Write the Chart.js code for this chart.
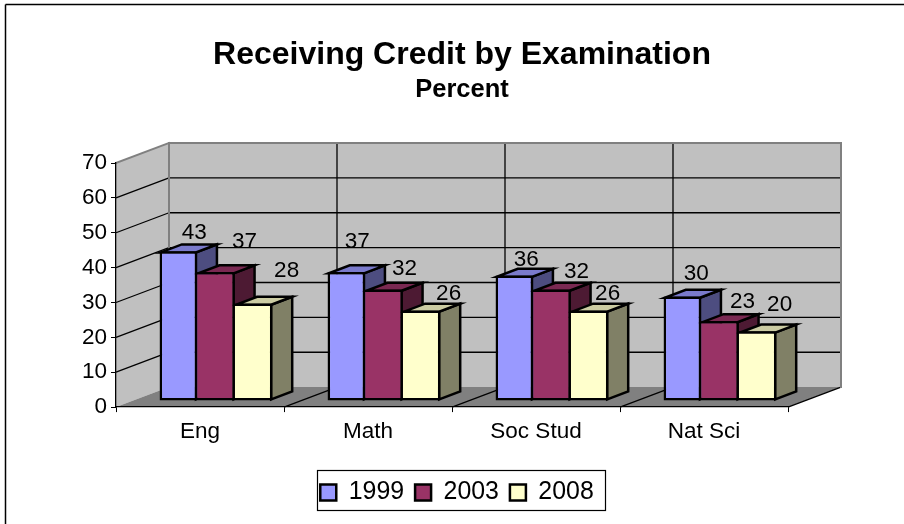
<!DOCTYPE html>
<html><head><meta charset="utf-8">
<style>html,body{margin:0;padding:0;background:#fff}canvas{display:block}#w{position:relative;width:904px;height:524px}</style>
<script src="https://cdn.jsdelivr.net/npm/chart.js@4"></script>
</head><body><div id="w"><canvas id="c"></canvas></div>
<script>
const categories = ['Eng', 'Math', 'Soc Stud', 'Nat Sci'];
const seriesNames = ['1999', '2003', '2008'];
const values1999 = [43, 37, 36, 30];
const values2003 = [37, 32, 32, 23];
const values2008 = [28, 26, 26, 20];
const yTicks = [0, 10, 20, 30, 40, 50, 60, 70];
const fills = ['#9999FF', '#993366', '#FFFFCC'];
const sides = ['#4D4D80', '#4D1A33', '#808066'];
const tops = ['#7A7ACC', '#7A2952', '#CCCCA3'];

const WALL = {dx: 53, dy: -20};
const PLANE = {dx: 16, dy: -6};
const DEPTH = {dx: 21, dy: -8};
const BAR_BORDER = 2.5;
// hand-placed label nudges [dx from bar centre, baseline dy from bar top], per series then category
const labelNudge = [
  [[16,-12],[11,-24],[12,-9.5],[14,-16]],
  [[28.5,-24],[20.5,-15],[24.5,-12],[22.5,-12.5]],
  [[33,-26],[27,-10],[18,-10],[22,-20]]
];

function poly(ctx, pts, fill, stroke, lw){
  ctx.beginPath();
  pts.forEach((p,i)=> i?ctx.lineTo(p[0],p[1]):ctx.moveTo(p[0],p[1]));
  ctx.closePath();
  if(fill){ctx.fillStyle=fill;ctx.fill();}
  if(stroke){ctx.strokeStyle=stroke;ctx.lineWidth=lw||1;ctx.stroke();}
}
function line(ctx,x1,y1,x2,y2,c,lw){
  ctx.beginPath();ctx.moveTo(x1,y1);ctx.lineTo(x2,y2);ctx.strokeStyle=c;ctx.lineWidth=lw||1;ctx.stroke();
}

const chrome3d = {
  id:'chrome3d',
  afterLayout(chart){
    chart.boxes.forEach(b=>{
      if(b.options && b.options.text !== undefined && b.isHorizontal && b.left!==undefined){
        b.left=0;b.right=924;b.width=924;
      }
    });
    const lg=chart.legend;
    lg.left=0;lg.right=914;lg.width=914;
    const savedTops=lg.legendHitBoxes.map(h=>h.top);
    lg.adjustHitBoxes();
    lg.legendHitBoxes.forEach((h,i)=>{h.top=savedTops[i];});
  },
  beforeDraw(chart){
    const ctx=chart.ctx, {x:xs,y:ys}=chart.scales;
    const L=xs.left,R=xs.right,B=ys.bottom,T=ys.top,dx=WALL.dx,dy=WALL.dy;
    ctx.save();
    ctx.fillStyle='#fff';ctx.fillRect(0,0,chart.width,chart.height);
    line(ctx,5.5,4.5,chart.width,4.5,'#000',1.5);
    line(ctx,5.5,4.5,5.5,chart.height,'#000',1.5);
    poly(ctx,[[L,B],[L+dx,B+dy],[L+dx,T+dy],[L,T]],'#C0C0C0');
    poly(ctx,[[L+dx,B+dy],[R+dx,B+dy],[R+dx,T+dy],[L+dx,T+dy]],'#C0C0C0');
    poly(ctx,[[L,B],[R,B],[R+dx,B+dy],[L+dx,B+dy]],'#808080');
    const step=(R-L)/categories.length;
    for(let i=0;i<=categories.length;i++){
      const x=L+i*step;
      if(i>0&&i<categories.length) line(ctx,x+dx,B+dy,x+dx,T+dy,'#000',1.3);
      if(i>0) line(ctx,x,B,x+dx,B+dy,'#000',1.3);
    }
    yTicks.forEach(v=>{
      const y=ys.getPixelForValue(v);
      if(v>0&&v<yTicks[yTicks.length-1]){
        line(ctx,L,y,L+dx,y+dy,'#000',1.3);
        line(ctx,L+dx,y+dy,R+dx,y+dy,'#000',1.3);
      }
    });
    ctx.lineCap='square';
    line(ctx,L,T,L+dx,T+dy,'#808080',2);
    line(ctx,L+dx,T+dy,R+dx,T+dy,'#808080',2);
    line(ctx,L+dx,T+dy,L+dx,B+dy,'#808080',2);
    line(ctx,R+dx,T+dy,R+dx,B+dy,'#808080',2);
    ctx.restore();
  },
  beforeDatasetsDraw(chart){
    const ctx=chart.ctx;
    ctx.save();
    ctx.translate(PLANE.dx,PLANE.dy);
    ctx.lineJoin='miter';
    const ix=BAR_BORDER/2;
    chart.data.datasets.forEach((ds,di)=>{
      chart.getDatasetMeta(di).data.forEach(b=>{
        const l=b.x-b.width/2,r=b.x+b.width/2,t=b.y,bt=b.base,dx=DEPTH.dx,dy=DEPTH.dy;
        poly(ctx,[[r-ix,bt-ix],[r-ix+dx,bt-ix+dy],[r-ix+dx,t+ix+dy],[r-ix,t+ix]],sides[di],'#000',BAR_BORDER);
        poly(ctx,[[l+ix,t+ix],[r-ix,t+ix],[r-ix+dx,t+ix+dy],[l+ix+dx,t+ix+dy]],tops[di],'#000',BAR_BORDER);
      });
    });
    ctx.restore();
    ctx.save();
    ctx.translate(PLANE.dx,PLANE.dy);
  },
  afterDatasetsDraw(chart){
    const ctx=chart.ctx;
    ctx.restore();
    ctx.save();
    ctx.font='22.5px "Liberation Sans", Arial, sans-serif';
    ctx.fillStyle='#000';ctx.textAlign='center';ctx.textBaseline='alphabetic';
    chart.data.datasets.forEach((ds,di)=>{
      chart.getDatasetMeta(di).data.forEach((b,i)=>{
        const n=labelNudge[di][i];
        ctx.fillText(String(ds.data[i]),b.x+PLANE.dx+n[0],b.y+PLANE.dy+n[1]);
      });
    });
    ctx.restore();
  },
  afterDraw(chart){
    const ctx=chart.ctx,lg=chart.legend,h=lg.legendHitBoxes;
    if(!h||!h.length)return;
    const l=h[0].left-3.3,r=h[h.length-1].left+h[h.length-1].width+11;
    const mid=lg.top+lg.options.labels.padding+lg.options.labels.font.size/2-3;
    ctx.save();ctx.strokeStyle='#000';ctx.lineWidth=1.2;
    ctx.strokeRect(Math.round(l)+.5,Math.round(mid-20)+.5,Math.round(r-l),40);
    ctx.restore();
  }
};

const font = s => ({family:'"Liberation Sans", Arial, sans-serif',size:s});
const dsets = [values1999,values2003,values2008].map((d,i)=>({
  label:seriesNames[i],data:d,backgroundColor:fills[i],borderColor:'#000',borderWidth:BAR_BORDER,
  borderSkipped:i===0?false:'left',clip:false,
  categoryPercentage:0.672,barPercentage:1
}));
new Chart(document.getElementById('c'),{
  type:'bar',
  data:{labels:categories,datasets:dsets},
  plugins:[chrome3d],
  options:{
    responsive:true,maintainAspectRatio:false,animation:false,
    layout:{padding:{left:0,right:116,top:0,bottom:9}},
    plugins:{
      title:{display:true,text:'Receiving Credit by Examination',color:'#000',font:{...font(32),weight:'bold'},padding:{top:36,bottom:0}},
      subtitle:{display:true,text:'Percent',color:'#000',font:{...font(25.5),weight:'bold'},padding:{top:0,bottom:58}},
      legend:{position:'bottom',labels:{boxWidth:16,boxHeight:16,padding:11,color:'#000',font:font(24.9)}},
      tooltip:{enabled:false}
    },
    scales:{
      x:{grid:{display:true,drawOnChartArea:false,color:'#000',tickLength:5,offset:true},border:{color:'#000',width:1.3},
         afterFit(s){s.height=62;},
         ticks:{color:'#000',font:font(22.5),padding:6,maxRotation:0}},
      y:{min:0,max:70,grid:{display:true,drawOnChartArea:false,color:'#000',tickLength:5},border:{color:'#000',width:1.3},
         afterFit(s){s.width=116;},
         afterBuildTicks(s){s.ticks=yTicks.map(v=>({value:v}));},
         ticks:{color:'#000',font:font(22.5),padding:4}}
    }
  }
});
</script></body></html>
